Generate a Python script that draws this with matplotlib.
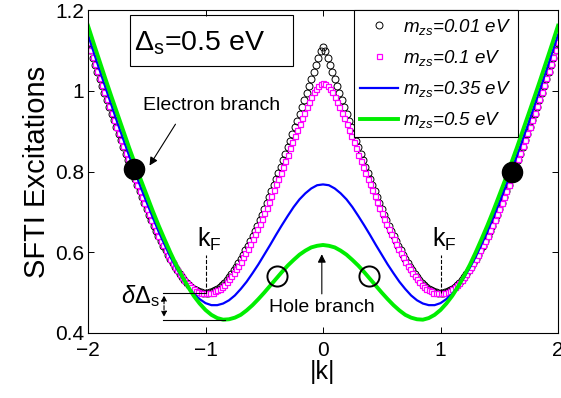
import numpy as np
import matplotlib
matplotlib.use("Agg")
import matplotlib.pyplot as plt
from matplotlib.patches import Rectangle

plt.rcParams['font.family'] = ['Liberation Sans', 'DejaVu Sans']
plt.rcParams['mathtext.fontset'] = 'custom'
plt.rcParams['mathtext.rm'] = 'Liberation Sans'
plt.rcParams['mathtext.it'] = 'Liberation Sans:italic'

# |k| >= 0 half of each curve (the spectrum is symmetric in k)
k_fine = np.linspace(0, 2, 101)
k_coarse = np.linspace(0, 2, 41)

e_m001 = [1.108, 1.098, 1.081, 1.064, 1.046, 1.029, 1.012, 0.994, 0.977, 0.960,
          0.943, 0.926, 0.910, 0.893, 0.876, 0.860, 0.844, 0.828, 0.812, 0.797,
          0.781, 0.766, 0.751, 0.736, 0.721, 0.707, 0.693, 0.679, 0.666, 0.653,
          0.640, 0.628, 0.616, 0.605, 0.594, 0.583, 0.573, 0.564, 0.555, 0.546,
          0.539, 0.531, 0.525, 0.519, 0.514, 0.510, 0.506, 0.504, 0.502, 0.500,
          0.500, 0.500, 0.502, 0.504, 0.506, 0.510, 0.514, 0.519, 0.525, 0.531,
          0.539, 0.546, 0.555, 0.564, 0.573, 0.583, 0.594, 0.605, 0.616, 0.628,
          0.640, 0.653, 0.666, 0.679, 0.693, 0.707, 0.721, 0.736, 0.751, 0.766,
          0.781, 0.797, 0.812, 0.828, 0.844, 0.860, 0.877, 0.893, 0.910, 0.927,
          0.943, 0.960, 0.978, 0.995, 1.012, 1.030, 1.047, 1.065, 1.082, 1.100,
          1.118]

e_m01 = [1.018, 1.017, 1.012, 1.005, 0.996, 0.985, 0.973, 0.960, 0.946, 0.932,
         0.918, 0.903, 0.888, 0.873, 0.858, 0.842, 0.827, 0.812, 0.797, 0.782,
         0.768, 0.753, 0.739, 0.724, 0.710, 0.697, 0.683, 0.670, 0.657, 0.644,
         0.632, 0.620, 0.609, 0.597, 0.587, 0.576, 0.567, 0.558, 0.549, 0.541,
         0.533, 0.527, 0.520, 0.515, 0.510, 0.506, 0.503, 0.500, 0.499, 0.498,
         0.498, 0.498, 0.500, 0.502, 0.505, 0.509, 0.513, 0.518, 0.524, 0.531,
         0.538, 0.546, 0.555, 0.564, 0.573, 0.583, 0.594, 0.605, 0.617, 0.629,
         0.641, 0.654, 0.667, 0.681, 0.694, 0.708, 0.723, 0.737, 0.752, 0.767,
         0.782, 0.798, 0.814, 0.830, 0.846, 0.862, 0.878, 0.895, 0.911, 0.928,
         0.945, 0.962, 0.979, 0.996, 1.014, 1.031, 1.049, 1.066, 1.084, 1.102,
         1.120]

e_m035 = [0.768, 0.766, 0.758, 0.746, 0.731, 0.712, 0.690, 0.667, 0.643, 0.618,
          0.594, 0.570, 0.548, 0.527, 0.509, 0.493, 0.481, 0.473, 0.469, 0.469,
          0.474, 0.484, 0.497, 0.515, 0.537, 0.562, 0.589, 0.620, 0.652, 0.687,
          0.723, 0.760, 0.799, 0.839, 0.880, 0.921, 0.964, 1.007, 1.050, 1.094,
          1.139]

e_m05 = [0.618, 0.616, 0.612, 0.604, 0.594, 0.581, 0.567, 0.551, 0.534, 0.517,
         0.500, 0.484, 0.469, 0.456, 0.445, 0.438, 0.434, 0.433, 0.437, 0.445,
         0.457, 0.473, 0.492, 0.515, 0.541, 0.569, 0.600, 0.633, 0.667, 0.703,
         0.741, 0.779, 0.819, 0.859, 0.901, 0.943, 0.985, 1.028, 1.072, 1.116,
         1.161]

labels = [r'$m_{zs}$=0.01 eV', r'$m_{zs}$=0.1 eV', r'$m_{zs}$=0.35 eV', r'$m_{zs}$=0.5 eV']

# marked points
electron_pts = ([-1.61, 1.61], [0.805, 0.80])
hole_pts = ([-0.39, 0.39], [0.541, 0.541])


def mirror(k, e):
    e = np.asarray(e)
    return np.concatenate([-k[:0:-1], k]), np.concatenate([e[:0:-1], e])


fig = plt.figure(figsize=(5.61, 3.98), dpi=100)
ax = fig.add_axes([88 / 561, 65 / 398, 470 / 561, 323 / 398])

x, y = mirror(k_fine, e_m001)
ax.plot(x, y, 'o', ms=5, mfc='none', mec='black', mew=0.7, label=labels[0])
x, y = mirror(k_fine, e_m01)
ax.plot(x, y, 's', ms=3.6, mfc='white', mec='magenta', mew=0.9, label=labels[1])
x, y = mirror(k_coarse, e_m035)
ax.plot(x, y, '-', color='#0000ff', lw=1.6, label=labels[2])
x, y = mirror(k_coarse, e_m05)
ax.plot(x, y, '-', color='#00ee00', lw=2.8, label=labels[3])

ax.plot(*electron_pts, 'o', ms=14.5, color='black', ls='none')
ax.plot(*hole_pts, 'o', ms=14.5, mfc='none', mec='black', mew=1.4, ls='none')

ax.set_xlim(-2, 2)
ax.set_ylim(0.4, 1.2)
ax.set_xticks([-2, -1, 0, 1, 2])
ax.set_xticklabels(['\u22122', '\u22121', '0', '1', '2'])
ax.set_yticks([0.4, 0.6, 0.8, 1.0, 1.2])
ax.set_yticklabels(['0.4', '0.6', '0.8', '1', '1.2'])
ax.tick_params(direction='in', top=True, right=True, labelsize=15, length=4, width=0.7, pad=3)
ax.tick_params(axis='x', pad=6)
for s in ax.spines.values():
    s.set_linewidth(0.8)
ax.set_xlabel('|k|', fontsize=18, labelpad=0)
ax.set_ylabel('SFTI Excitations', fontsize=21, labelpad=3)

leg = ax.legend(loc='upper right', bbox_to_anchor=(0.915, 1.0), borderaxespad=0,
                fancybox=False, edgecolor='black', framealpha=1,
                prop={'style': 'italic', 'size': 13.5}, handlelength=2.0,
                labelspacing=0.6, handletextpad=0.3, borderpad=0.35)
leg.get_frame().set_linewidth(0.8)

# Delta_s box
ax.add_patch(Rectangle((-1.643, 1.061), 1.388, 0.127, fill=False, ec='black', lw=0.8))
ax.text(-1.61, 1.1, r'$\Delta_{\mathrm{s}}$=0.5 eV', fontsize=20.5, va='baseline')

# annotations
ax.text(-1.53, 0.952, 'Electron branch', fontsize=14, va='baseline')
ax.annotate('', xy=(-1.489, 0.809), xytext=(-1.243, 0.923),
            arrowprops=dict(arrowstyle='-|>', color='black', lw=0.8, mutation_scale=12))
ax.text(-0.46, 0.451, 'Hole branch', fontsize=14, va='baseline')
ax.annotate('', xy=(-0.01, 0.602), xytext=(-0.01, 0.49),
            arrowprops=dict(arrowstyle='-|>', color='black', lw=0.8, mutation_scale=12))

for kf in (-1, 1):
    ax.plot([kf, kf], [0.5, 0.593], '--', color='black', lw=0.8)
    ax.text(kf - 0.07, 0.614, r'k$_{\mathrm{F}}$', fontsize=18, va='baseline')

ax.plot([-1.36, -1.0], [0.5, 0.5], color='black', lw=0.8)
ax.plot([-1.36, -0.83], [0.433, 0.433], color='black', lw=0.8)
ax.annotate('', xy=(-1.353, 0.5), xytext=(-1.353, 0.433),
            arrowprops=dict(arrowstyle='<|-|>', color='black', lw=0.8, ls='--', mutation_scale=8))
ax.text(-1.72, 0.4735, r'$\delta\Delta_{\mathrm{s}}$', fontsize=17, va='baseline')

fig.savefig('out.png', dpi=100)
